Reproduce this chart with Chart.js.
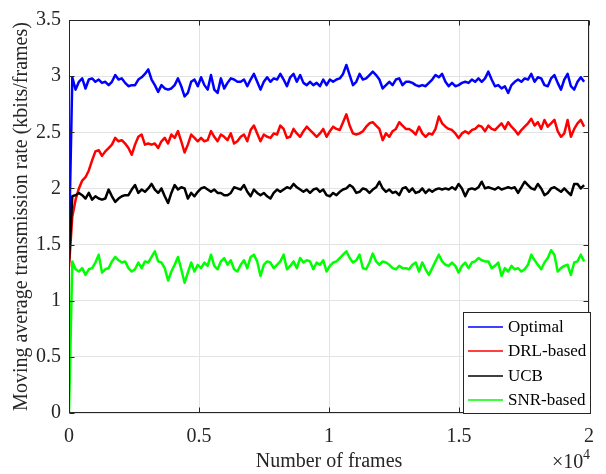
<!DOCTYPE html>
<html>
<head>
<meta charset="utf-8">
<script src="https://cdn.jsdelivr.net/npm/chart.js@4.4.1/dist/chart.umd.min.js"></script>
<style>
  html, body { margin: 0; padding: 0; background: #ffffff; }
  #chart { display: block; }
</style>
</head>
<body>
<canvas id="chart" width="606" height="474"></canvas>
<script>
// values, one per ~127 frames
const frameStep = 127;

const optimal = [
  1.50,
  2.99, 2.88, 2.95, 2.98, 2.89, 2.97, 2.98, 2.95, 2.97, 2.94,
  2.95, 2.92, 2.95, 3.01, 2.97, 2.98, 2.94, 2.91, 2.92, 2.92,
  2.97, 2.99, 3.02, 3.06, 2.97, 2.92, 2.86, 2.92, 2.89, 2.88,
  2.89, 2.92, 2.98, 2.91, 2.82, 2.85, 2.95, 2.97, 2.91, 2.99,
  2.92, 2.88, 3.01, 2.88, 2.85, 2.98, 2.89, 2.94, 2.98, 2.97,
  2.95,
  2.95, 2.97, 2.91, 2.97, 3.02, 2.95, 2.88, 2.95, 2.99, 2.95,
  2.98, 2.97, 3.02, 2.97, 2.91, 2.99, 3.02, 2.95, 3.01, 2.94,
  2.92, 2.95, 2.92, 2.94, 2.91, 2.97, 2.92, 2.97, 2.95, 2.97,
  2.98, 3.02, 3.10, 3.01, 2.92, 2.95, 3.02, 2.97, 2.98, 3.01,
  3.04, 3.01, 2.97, 2.89, 2.92, 2.95, 2.92, 2.97, 2.98, 2.92,
  2.95,
  2.95, 2.94, 2.92, 2.91, 2.92, 2.91, 2.94, 2.97, 3.01, 2.99,
  3.02, 2.95, 2.91, 2.94, 2.91, 2.92, 2.94, 2.95, 2.94, 2.97,
  2.95, 2.98, 2.95, 2.98, 3.04, 2.97, 2.91, 2.92, 2.89, 2.91,
  2.85, 2.92, 2.95, 2.97, 2.95, 2.98, 2.97, 3.02, 2.95, 2.99,
  2.98, 2.92, 2.91, 2.98, 3.01, 2.94, 2.88, 2.97, 3.02, 2.91,
  2.88, 2.95, 2.99, 2.95
];

const drlBased = [
  1.30,
  1.75, 1.90, 2.00, 2.07, 2.10, 2.16, 2.25, 2.33, 2.34, 2.29,
  2.33, 2.36, 2.39, 2.45, 2.42, 2.43, 2.40, 2.36, 2.30, 2.39,
  2.46, 2.48, 2.39, 2.40, 2.39, 2.40, 2.36, 2.42, 2.45, 2.40,
  2.48, 2.45, 2.51, 2.42, 2.32, 2.39, 2.48, 2.45, 2.42, 2.45,
  2.42, 2.43, 2.51, 2.46, 2.42, 2.48, 2.46, 2.43, 2.49, 2.40,
  2.42,
  2.46, 2.48, 2.42, 2.52, 2.56, 2.49, 2.42, 2.48, 2.46, 2.45,
  2.49, 2.48, 2.56, 2.53, 2.45, 2.46, 2.53, 2.49, 2.46, 2.51,
  2.55, 2.52, 2.49, 2.46, 2.49, 2.53, 2.46, 2.51, 2.55, 2.53,
  2.52, 2.59, 2.66, 2.56, 2.49, 2.48, 2.49, 2.51, 2.55, 2.58,
  2.59, 2.56, 2.53, 2.43, 2.49, 2.46, 2.51, 2.53, 2.59, 2.56,
  2.53,
  2.53, 2.51, 2.48, 2.55, 2.49, 2.46, 2.49, 2.48, 2.53, 2.64,
  2.58, 2.55, 2.53, 2.52, 2.49, 2.45, 2.49, 2.51, 2.49, 2.52,
  2.53, 2.56, 2.55, 2.51, 2.56, 2.53, 2.52, 2.55, 2.58, 2.53,
  2.59, 2.55, 2.52, 2.48, 2.52, 2.55, 2.58, 2.62, 2.56, 2.59,
  2.53, 2.61, 2.55, 2.58, 2.61, 2.51, 2.46, 2.49, 2.61, 2.46,
  2.53, 2.58, 2.61, 2.55
];

const ucb = [
  1.35,
  1.93, 1.94, 1.96, 1.94, 1.91, 1.96, 1.90, 1.93, 1.91, 1.90,
  1.91, 1.99, 1.93, 1.88, 1.91, 1.93, 1.94, 1.94, 1.99, 2.03,
  1.96, 1.99, 1.97, 2.00, 2.04, 1.99, 1.96, 2.00, 1.93, 1.87,
  1.96, 2.03, 1.99, 2.01, 2.00, 1.91, 1.96, 1.93, 1.97, 2.00,
  2.01, 1.99, 1.97, 1.99, 1.96, 1.96, 1.94, 1.94, 1.96, 2.01,
  2.00,
  1.99, 2.03, 1.97, 1.93, 1.99, 1.96, 1.94, 1.96, 1.93, 1.91,
  1.96, 1.99, 1.97, 1.99, 2.01, 2.00, 2.04, 2.01, 1.99, 1.97,
  1.99, 1.96, 1.99, 2.00, 1.97, 1.99, 1.94, 1.93, 1.96, 1.94,
  1.97, 1.99, 2.00, 2.03, 2.01, 1.96, 1.97, 2.00, 1.99, 1.96,
  1.99, 2.01, 2.06, 2.00, 1.97, 1.99, 1.96, 1.97, 1.94, 2.00,
  2.01,
  1.97, 2.00, 1.96, 1.97, 2.00, 1.96, 1.99, 1.97, 1.99, 2.00,
  1.99, 2.00, 1.99, 2.01, 1.99, 2.04, 2.00, 1.93, 1.99, 2.00,
  1.99, 2.01, 2.06, 2.00, 2.01, 2.00, 1.99, 2.01, 1.99, 2.00,
  2.01, 2.00, 2.01, 1.96, 2.01, 2.06, 2.03, 2.00, 1.99, 2.04,
  2.00, 1.94, 1.96, 2.00, 2.01, 1.99, 1.97, 2.00, 1.97, 1.94,
  2.04, 2.04, 2.00, 2.03
];

const snrBased = [
  0.00,
  1.35, 1.28, 1.26, 1.29, 1.23, 1.28, 1.29, 1.34, 1.41, 1.25,
  1.28, 1.29, 1.35, 1.39, 1.36, 1.34, 1.35, 1.29, 1.26, 1.28,
  1.34, 1.29, 1.35, 1.34, 1.39, 1.44, 1.35, 1.34, 1.29, 1.18,
  1.26, 1.32, 1.39, 1.28, 1.16, 1.25, 1.34, 1.26, 1.32, 1.29,
  1.34, 1.31, 1.41, 1.31, 1.28, 1.35, 1.38, 1.32, 1.36, 1.28,
  1.26,
  1.32, 1.36, 1.29, 1.39, 1.41, 1.35, 1.22, 1.32, 1.35, 1.34,
  1.29, 1.32, 1.35, 1.41, 1.28, 1.31, 1.35, 1.29, 1.38, 1.34,
  1.36, 1.35, 1.28, 1.34, 1.32, 1.36, 1.26, 1.31, 1.34, 1.35,
  1.38, 1.41, 1.44, 1.38, 1.34, 1.36, 1.41, 1.29, 1.28, 1.34,
  1.42, 1.35, 1.32, 1.35, 1.34, 1.32, 1.29, 1.28, 1.31, 1.29,
  1.29,
  1.28, 1.32, 1.34, 1.26, 1.34, 1.28, 1.23, 1.29, 1.35, 1.41,
  1.35, 1.32, 1.31, 1.34, 1.31, 1.25, 1.31, 1.34, 1.29, 1.34,
  1.35, 1.38, 1.36, 1.35, 1.35, 1.29, 1.31, 1.34, 1.22, 1.29,
  1.26, 1.31, 1.28, 1.29, 1.26, 1.28, 1.32, 1.41, 1.36, 1.32,
  1.28, 1.34, 1.38, 1.45, 1.41, 1.26, 1.29, 1.31, 1.32, 1.23,
  1.34, 1.35, 1.41, 1.35
];

const seriesNames = ['Optimal', 'DRL-based', 'UCB', 'SNR-based'];
const seriesColors = ['#0000ff', '#ff0000', '#000000', '#00ff00'];
const xTickValues = [0, 5000, 10000, 15000, 20000];
const yTickValues = [0, 0.5, 1, 1.5, 2, 2.5, 3, 3.5];

const FONT = "'Liberation Serif', 'Times New Roman', serif";
const AXIS_COLOR = '#262626';

function toPoints(values) {
  return values.map((v, i) => ({ x: i * frameStep, y: v }));
}

const allSeries = [optimal, drlBased, ucb, snrBased];
const datasets = allSeries.map((vals, i) => ({
  label: seriesNames[i],
  data: toPoints(vals),
  borderColor: seriesColors[i],
  backgroundColor: seriesColors[i],
  borderWidth: 2.5,
  borderJoinStyle: 'round',
  pointRadius: 0,
  tension: 0,
  fill: false,
  order: allSeries.length - i  // later series on top, like MATLAB
}));

// box, inward ticks, x10^4 exponent and the inset legend
const matlabAxes = {
  id: 'matlabAxes',
  afterDatasetsDraw(chart) {
    const { ctx, chartArea: a, scales } = chart;
    const L = Math.round(a.left) + 0.5, R = Math.round(a.right) - 0.5;
    const T = Math.round(a.top) + 0.5, B = Math.round(a.bottom) - 0.5;
    const tick = 5;
    ctx.save();
    ctx.strokeStyle = AXIS_COLOR;
    ctx.lineWidth = 1;
    ctx.beginPath();
    xTickValues.forEach(v => {
      const px = Math.round(scales.x.getPixelForValue(v)) + 0.5;
      ctx.moveTo(px, B); ctx.lineTo(px, B - tick);
      ctx.moveTo(px, T); ctx.lineTo(px, T + tick);
    });
    yTickValues.forEach(v => {
      const py = Math.round(scales.y.getPixelForValue(v)) + 0.5;
      ctx.moveTo(L, py); ctx.lineTo(L + tick, py);
      ctx.moveTo(R, py); ctx.lineTo(R - tick, py);
    });
    ctx.stroke();
    ctx.strokeRect(L, T, R - L, B - T);

    // exponent label
    ctx.fillStyle = AXIS_COLOR;
    ctx.textBaseline = 'alphabetic';
    ctx.textAlign = 'left';
    ctx.font = '20px ' + FONT;
    ctx.fillText('\u00d710', 552, 468);
    ctx.font = '14px ' + FONT;
    ctx.fillText('4', 583, 459);

    // legend box (southeast)
    const lx = 463.5, ly = 312.5, lw = 127, lh = 101;
    ctx.fillStyle = '#ffffff';
    ctx.fillRect(lx, ly, lw, lh);
    ctx.strokeStyle = AXIS_COLOR;
    ctx.strokeRect(lx, ly, lw, lh);
    ctx.font = '17px ' + FONT;
    ctx.textBaseline = 'middle';
    const rowY = [327, 351, 376, 400];
    seriesNames.forEach((name, i) => {
      ctx.strokeStyle = seriesColors[i];
      ctx.lineWidth = 1.5;
      ctx.beginPath();
      ctx.moveTo(468, rowY[i]);
      ctx.lineTo(503, rowY[i]);
      ctx.stroke();
      ctx.fillStyle = '#000000';
      ctx.fillText(name, 508, rowY[i] + 1);
    });
    ctx.restore();
  }
};

new Chart(document.getElementById('chart').getContext('2d'), {
  type: 'line',
  data: { datasets },
  options: {
    responsive: false,
    animation: false,
    layout: { padding: { top: 8, right: 15, left: 0, bottom: 0 } },
    plugins: {
      legend: { display: false },
      tooltip: { enabled: false }
    },
    scales: {
      x: {
        type: 'linear',
        min: 0,
        max: 20000,
        afterBuildTicks: s => { s.ticks = xTickValues.map(v => ({ value: v })); },
        afterFit: s => { s.height = 61; },
        ticks: {
          callback: v => String(v / 10000),
          font: { family: FONT, size: 20 },
          color: AXIS_COLOR,
          padding: 12,
          maxRotation: 0
        },
        grid: { color: '#e3e3e3', drawTicks: false },
        border: { display: false },
        title: {
          display: true,
          text: 'Number of frames',
          font: { family: FONT, size: 20 },
          color: AXIS_COLOR,
          padding: { top: 0, bottom: 0 }
        }
      },
      y: {
        min: 0,
        max: 3.5,
        afterBuildTicks: s => { s.ticks = yTickValues.map(v => ({ value: v })); },
        afterFit: s => { s.width = 69; },
        ticks: {
          callback: v => String(v),
          font: { family: FONT, size: 20 },
          color: AXIS_COLOR,
          padding: 8
        },
        grid: { color: '#e3e3e3', drawTicks: false },
        border: { display: false },
        title: {
          display: true,
          text: 'Moving average transmission rate (kbits/frames)',
          font: { family: FONT, size: 20 },
          color: AXIS_COLOR,
          padding: { top: 10, bottom: 0 }
        }
      }
    }
  },
  plugins: [matlabAxes]
});
</script>
</body>
</html>
